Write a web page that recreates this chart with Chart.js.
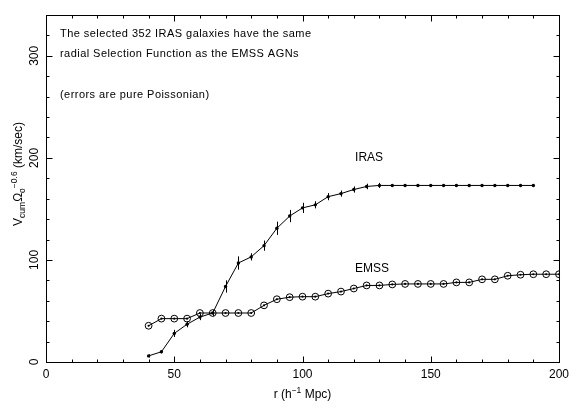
<!DOCTYPE html>
<html lang="en">
<head>
<meta charset="UTF-8">
<title>Vcum vs r: IRAS and EMSS</title>
<script src="https://cdn.jsdelivr.net/npm/chart.js"></script>
<style>
  body { margin: 0; background: #fff; }
  #velChart { display: block; }
</style>
</head>
<body>
<canvas id="velChart" width="572" height="407"></canvas>
<script>
// radius bins, h^-1 Mpc
const irasR = [40, 45, 50, 55, 60, 65, 70, 75, 80, 85, 90, 95, 100, 105, 110, 115, 120, 125,
               130, 135, 140, 145, 150, 155, 160, 165, 170, 175, 180, 185, 190];
// Vcum * Omega^-0.6 (km/sec)
const irasV = [6, 10, 28, 37, 44, 48, 74, 97, 103, 114, 131, 143, 151, 154, 162, 165, 169, 172,
               173, 173, 173, 173, 173, 173, 173, 173, 173, 173, 173, 173, 173];
// poisson errors (half length)
const irasErr = [1.5, 1.5, 3.5, 3, 3, 3, 6, 6.5, 3.5, 5, 6.5, 6, 5, 3.5, 3.5, 3, 3, 2.7,
                 2.5, 0, 0, 0, 0, 0, 0, 0, 0, 0, 0, 0, 0];

const emssR = [40, 45, 50, 55, 60, 65, 70, 75, 80, 85, 90, 95, 100, 105, 110, 115, 120, 125,
               130, 135, 140, 145, 150, 155, 160, 165, 170, 175, 180, 185, 190, 195, 200];
const emssV = [35.5, 42.5, 42.5, 42.5, 48, 48, 48, 48, 48, 55.5, 61.5, 63.5, 64, 64, 67, 69, 72, 75,
               75, 76, 76.5, 76.5, 76.5, 76.5, 78, 78, 81, 81, 84.5, 85.5, 86, 86, 86];

const xTicks = [0, 50, 100, 150, 200];
const yTicks = [0, 100, 200, 300];

const notes = [
  'The selected 352 IRAS galaxies have the same',
  'radial Selection Function as the EMSS AGNs',
  '(errors are pure Poissonian)'
];

const SANS = '"Liberation Sans", Arial, sans-serif';

// text pieces with sub/superscripts, drawn left to right from (x0,y0)
function runsWidth(ctx, runs) {
  let w = 0;
  runs.forEach(r => { ctx.font = r.size + 'px ' + SANS; w += ctx.measureText(r.t).width; });
  return w;
}
function drawRuns(ctx, runs, x0, y0) {
  let x = x0;
  runs.forEach(r => {
    ctx.font = r.size + 'px ' + SANS;
    ctx.fillText(r.t, x, y0 + (r.dy || 0));
    x += ctx.measureText(r.t).width;
  });
}

const yTitle = [
  { t: 'V', size: 12 }, { t: 'cum', size: 8.5, dy: 3 },
  { t: 'Ω', size: 12 }, { t: 'o', size: 8.5, dy: 3 },
  { t: '−0.6', size: 8.5, dy: -5 }, { t: ' (km/sec)', size: 12 }
];
const xTitle = [
  { t: 'r (h', size: 12 }, { t: '−1', size: 8.5, dy: -5 }, { t: ' Mpc)', size: 12 }
];

const framePlugin = {
  id: 'frame',
  afterDatasetsDraw(chart) {
    const { ctx, chartArea: a, scales: { x, y } } = chart;
    ctx.save();
    ctx.strokeStyle = '#000';
    ctx.fillStyle = '#000';
    ctx.lineWidth = 1;

    // error bars on the IRAS points
    ctx.beginPath();
    irasR.forEach((r, i) => {
      if (!irasErr[i]) return;
      const px = Math.round(x.getPixelForValue(r)) + 0.5;
      ctx.moveTo(px, y.getPixelForValue(irasV[i] - irasErr[i]));
      ctx.lineTo(px, y.getPixelForValue(irasV[i] + irasErr[i]));
    });
    ctx.stroke();

    // dot in the middle of each EMSS ring
    chart.getDatasetMeta(1).data.forEach(p => {
      ctx.beginPath();
      ctx.arc(p.x, p.y, 1.1, 0, Math.PI * 2);
      ctx.fill();
    });

    // box
    const L = Math.round(a.left) + 0.5, R = Math.round(a.right) + 0.5;
    const T = Math.round(a.top) + 0.5, B = Math.round(a.bottom) + 0.5;
    ctx.strokeRect(L, T, R - L, B - T);

    // inward ticks on all four sides
    ctx.beginPath();
    for (let v = 0; v <= 200; v += 10) {
      const px = Math.round(x.getPixelForValue(v)) + 0.5;
      const len = v % 50 === 0 ? 6 : 3;
      ctx.moveTo(px, B); ctx.lineTo(px, B - len);
      ctx.moveTo(px, T); ctx.lineTo(px, T + len);
    }
    for (let v = 0; v <= 340; v += 20) {
      const py = Math.round(y.getPixelForValue(v)) + 0.5;
      const len = v % 100 === 0 ? 6 : 3;
      ctx.moveTo(L, py); ctx.lineTo(L + len, py);
      ctx.moveTo(R, py); ctx.lineTo(R - len, py);
    }
    ctx.stroke();

    // y tick labels, rotated
    ctx.font = '12px ' + SANS;
    ctx.textAlign = 'center';
    ctx.textBaseline = 'alphabetic';
    yTicks.forEach(v => {
      ctx.save();
      ctx.translate(38, y.getPixelForValue(v));
      ctx.rotate(-Math.PI / 2);
      ctx.fillText(String(v), 0, 0);
      ctx.restore();
    });

    // axis titles
    ctx.textAlign = 'left';
    const xw = runsWidth(ctx, xTitle);
    drawRuns(ctx, xTitle, (a.left + a.right) / 2 - xw / 2, 398);

    const yw = runsWidth(ctx, yTitle);
    ctx.save();
    ctx.translate(22, 174);
    ctx.rotate(-Math.PI / 2);
    drawRuns(ctx, yTitle, -yw / 2, 0);
    ctx.restore();

    // series names
    ctx.font = '12px ' + SANS;
    ctx.fillText('IRAS', x.getPixelForValue(120.5), y.getPixelForValue(197));
    ctx.fillText('EMSS', x.getPixelForValue(120.5), y.getPixelForValue(88));

    // notes in the top-left corner
    ctx.font = '11px ' + SANS;
    ctx.letterSpacing = '0.45px';
    ctx.fillText(notes[0], 60, 37);
    ctx.fillText(notes[1], 60, 57);
    ctx.fillText(notes[2], 60, 98);

    ctx.restore();
  }
};

new Chart(document.getElementById('velChart'), {
  type: 'line',
  data: {
    datasets: [
      {
        label: 'IRAS',
        data: irasR.map((r, i) => ({ x: r, y: irasV[i] })),
        borderColor: '#000',
        borderWidth: 1,
        pointRadius: 1.7,
        pointBorderWidth: 0,
        pointBackgroundColor: '#000',
        tension: 0
      },
      {
        label: 'EMSS',
        data: emssR.map((r, i) => ({ x: r, y: emssV[i] })),
        borderColor: '#000',
        borderWidth: 1,
        pointStyle: 'circle',
        pointRadius: 3.4,
        pointBorderWidth: 1,
        pointBorderColor: '#000',
        pointBackgroundColor: 'rgba(0,0,0,0)',
        tension: 0
      }
    ]
  },
  options: {
    responsive: false,
    animation: false,
    layout: { padding: { top: 15, right: 13, left: 0, bottom: 0 } },
    plugins: { legend: { display: false }, tooltip: { enabled: false } },
    scales: {
      x: {
        type: 'linear',
        min: 0, max: 200,
        grid: { display: false, drawTicks: false },
        border: { display: false },
        ticks: {
          stepSize: 50,
          maxRotation: 0,
          padding: 5,
          color: '#000',
          font: { family: SANS, size: 12 },
          callback: v => xTicks.includes(v) ? String(v) : ''
        },
        afterFit(s) { s.height = 45; s.paddingLeft = 0; s.paddingRight = 0; }
      },
      y: {
        type: 'linear',
        min: 0, max: 340,
        grid: { display: false, drawTicks: false },
        border: { display: false },
        ticks: { display: false, stepSize: 100 },
        afterFit(s) { s.width = 46; s.paddingTop = 0; s.paddingBottom = 0; }
      }
    }
  },
  plugins: [framePlugin]
});
</script>
</body>
</html>
